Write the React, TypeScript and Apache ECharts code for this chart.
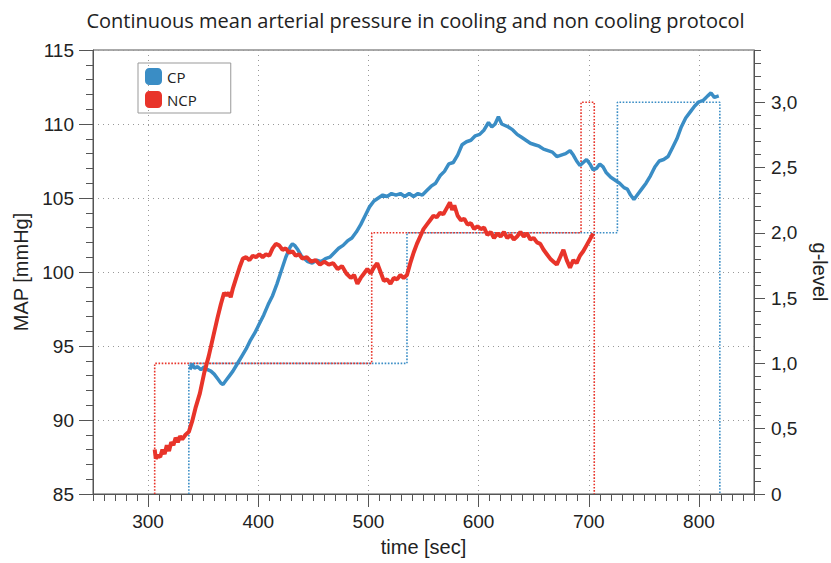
import React, { useEffect, useRef } from 'react';
import * as echarts from 'echarts';

const titleText = 'Continuous mean arterial pressure in cooling and non cooling protocol';
const legendNames = ['CP', 'NCP'];
const xMajorTicks = [300, 400, 500, 600, 700, 800];
const gTicks = [0, 0.5, 1, 1.5, 2, 2.5, 3];

const cpTime = [338, 340, 342, 345, 348, 351, 354, 357, 360, 363, 366, 368, 371, 374, 377, 381, 385, 389, 393, 397, 401, 405, 409, 413, 417, 421, 425, 429, 431, 433, 436, 439, 442, 445, 449, 453, 457, 461, 465, 469, 473, 477, 481, 485, 489, 493, 497, 501, 505, 509, 513, 517, 521, 525, 529, 533, 537, 541, 545, 549, 553, 557, 561, 565, 569, 573, 577, 581, 585, 589, 593, 597, 601, 605, 609, 612, 615, 618, 621, 624, 627, 631, 635, 639, 643, 647, 651, 655, 659, 663, 667, 671, 675, 679, 683, 686, 689, 692, 695, 698, 701, 704, 707, 710, 713, 716, 720, 724, 728, 732, 735, 738, 741, 744, 748, 752, 756, 760, 764, 768, 772, 776, 780, 784, 788, 792, 796, 800, 804, 808, 811, 814, 818];
const cpMap = [93.4, 93.8, 93.5, 93.6, 93.4, 93.6, 93.4, 93.3, 93.1, 92.8, 92.5, 92.4, 92.7, 93.0, 93.3, 93.8, 94.3, 94.8, 95.4, 95.9, 96.5, 97.1, 97.8, 98.4, 99.2, 100.1, 101.0, 101.7, 101.9, 101.8, 101.5, 101.1, 100.9, 100.7, 100.6, 100.8, 100.7, 100.9, 101.0, 101.3, 101.6, 101.8, 102.1, 102.3, 102.7, 103.2, 103.8, 104.4, 104.8, 105.0, 105.2, 105.1, 105.3, 105.2, 105.3, 105.1, 105.3, 105.1, 105.3, 105.2, 105.5, 105.8, 106.0, 106.5, 106.8, 107.3, 107.4, 107.9, 108.6, 108.8, 108.9, 109.2, 109.3, 109.6, 110.1, 109.8, 110.0, 110.5, 110.0, 109.9, 109.8, 109.6, 109.3, 109.1, 108.9, 108.7, 108.6, 108.5, 108.3, 108.2, 108.1, 107.8, 107.9, 108.0, 108.2, 107.9, 107.5, 107.2, 107.4, 107.6, 107.3, 106.9, 107.0, 107.3, 107.1, 106.7, 106.4, 106.2, 106.0, 105.7, 105.6, 105.2, 104.9, 105.2, 105.6, 106.0, 106.5, 107.1, 107.5, 107.6, 107.8, 108.4, 109.0, 109.8, 110.4, 110.8, 111.2, 111.5, 111.6, 111.9, 112.1, 111.8, 111.9];

const ncpTime = [306, 307, 309, 311, 313, 315, 317, 319, 321, 323, 325, 327, 329, 331, 334, 337, 340, 343, 347, 351, 355, 359, 363, 366, 369, 371, 373, 375, 377, 380, 383, 386, 389, 392, 395, 398, 401, 404, 407, 410, 413, 416, 419, 422, 425, 428, 431, 434, 437, 440, 444, 448, 452, 456, 460, 464, 468, 472, 476, 480, 484, 487, 490, 493, 496, 499, 502, 505, 508, 511, 514, 517, 520, 523, 526, 529, 532, 535, 538, 541, 544, 547, 550, 553, 556, 559, 562, 565, 568, 571, 574, 576, 578, 581, 584, 587, 590, 593, 596, 599, 602, 605, 608, 611, 614, 617, 620, 623, 626, 629, 632, 635, 638, 641, 644, 647, 650, 653, 656, 659, 662, 665, 668, 671, 674, 677, 680, 683, 686, 689, 692, 695, 698, 701, 704];
const ncpMap = [88.0, 87.4, 87.6, 87.5, 88.0, 87.7, 88.3, 87.9, 88.5, 88.3, 88.8, 88.5, 88.9, 88.7, 89.0, 89.2, 89.9, 90.8, 91.8, 93.2, 94.3, 95.6, 96.9, 97.8, 98.6, 98.4, 98.6, 98.3, 98.9, 99.6, 100.3, 100.9, 101.0, 100.8, 101.1, 101.0, 101.2, 101.0, 101.2, 101.1, 101.6, 101.9, 101.8, 101.5, 101.6, 101.3, 101.4, 101.1, 101.2, 100.9, 101.0, 100.7, 100.8, 100.5, 100.7, 100.5, 100.6, 100.2, 100.4, 99.9, 99.6, 99.8, 99.2, 99.6, 99.9, 100.2, 99.9, 100.3, 100.6, 100.0, 99.4, 99.5, 99.2, 99.6, 99.5, 99.8, 99.6, 99.8, 100.6, 101.3, 101.9, 102.4, 102.9, 103.2, 103.5, 103.8, 103.7, 104.0, 103.9, 104.3, 104.7, 104.2, 104.5, 103.8, 103.5, 103.6, 103.2, 103.3, 102.9, 103.1, 102.9, 103.0, 102.5, 102.7, 102.3, 102.6, 102.4, 102.7, 102.3, 102.5, 102.2, 102.4, 102.7, 102.4, 102.6, 102.2, 102.3, 102.0, 101.9, 101.5, 101.2, 100.9, 100.7, 100.5, 101.0, 101.5, 100.8, 100.3, 100.8, 100.6, 101.1, 101.4, 101.8, 102.2, 102.6];

const cpGTime = [337, 337, 535, 535, 726, 726, 819, 819];
const cpGLevel = [0, 1, 1, 2, 2, 3, 3, 0];
const ncpGTime = [306, 306, 503, 503, 693, 693, 705, 705];
const ncpGLevel = [0, 1, 1, 2, 2, 3, 3, 0];

const BLUE = '#3a8dc5';
const RED = '#e8342a';
const AXIS = '#555';
const FONT = 'Liberation Sans';

export default function App() {
  const ref = useRef<HTMLDivElement>(null);
  useEffect(() => {
    const chart = echarts.init(ref.current!, null, { renderer: 'svg' });
    const pair = (xs: number[], ys: number[]) => xs.map((x, i) => [x, ys[i]]);
    const option: any = {
      animation: false,
      backgroundColor: '#fff',
      title: {
        text: titleText,
        left: 'center',
        top: 5,
        textStyle: { fontFamily: 'Open Sans', fontSize: 20, fontWeight: 'normal', color: '#222' },
      },
      legend: {
        data: legendNames,
        orient: 'vertical',
        left: 138,
        top: 63,
        icon: 'roundRect',
        itemWidth: 17,
        itemHeight: 17,
        itemGap: 6,
        padding: [5, 34, 5, 7],
        borderColor: '#999',
        borderWidth: 1,
        textStyle: { fontFamily: 'Open Sans', fontSize: 15, color: '#222' },
      },
      grid: {
        left: 93, right: 77, top: 50, bottom: 69, containLabel: false, outerBoundsMode: 'none',
        show: true, borderColor: AXIS, borderWidth: 1, backgroundColor: 'transparent',
      },
      xAxis: [
        {
          type: 'value', min: 250, max: 850, position: 'bottom',
          name: 'time [sec]', nameLocation: 'middle', nameGap: 43,
          nameTextStyle: { fontFamily: FONT, fontSize: 20, color: '#222' },
          axisLine: { onZero: false, lineStyle: { color: AXIS, width: 1 } },
          axisTick: { show: true, length: 13, customValues: xMajorTicks, lineStyle: { color: AXIS } },
          axisLabel: { customValues: xMajorTicks, fontFamily: FONT, fontSize: 19, color: '#222', margin: 18 },
          splitLine: { show: true, lineStyle: { color: '#999', type: [1, 4], width: 1 } },
        },
        {
          type: 'value', min: 250, max: 850, interval: 10, position: 'bottom',
          axisLine: { show: false, onZero: false },
          axisTick: { show: true, length: 7, lineStyle: { color: AXIS } },
          axisLabel: { show: false },
          splitLine: { show: false },
        },
      ],
      yAxis: [
        {
          type: 'value', min: 85, max: 115, interval: 5, position: 'left',
          name: 'MAP [mmHg]', nameLocation: 'middle', nameGap: 57,
          nameTextStyle: { fontFamily: FONT, fontSize: 20, color: '#222' },
          axisLine: { show: true, onZero: false, lineStyle: { color: AXIS } },
          axisTick: { show: true, length: 14, lineStyle: { color: AXIS } },
          minorTick: { show: true, splitNumber: 5, length: 7, lineStyle: { color: AXIS } },
          axisLabel: { fontFamily: FONT, fontSize: 19, color: '#222', margin: 19 },
          splitLine: { show: true, lineStyle: { color: '#999', type: [1, 4], width: 1 } },
        },
        {
          type: 'value', min: 0, max: 3.4, position: 'right',
          name: 'g-level', nameLocation: 'middle', nameGap: 56, nameRotate: -90,
          nameTextStyle: { fontFamily: FONT, fontSize: 20, color: '#222' },
          axisLine: { show: true, onZero: false, lineStyle: { color: AXIS } },
          axisTick: { show: true, length: 11, customValues: gTicks, lineStyle: { color: AXIS } },
          axisLabel: {
            customValues: gTicks, fontFamily: FONT, fontSize: 19, color: '#222', margin: 17,
            formatter: (v: number) => (v === 0 ? '0' : v.toFixed(1).replace('.', ',')),
          },
          splitLine: { show: false },
        },
        {
          type: 'value', min: 0, max: 3.4, interval: 0.1, position: 'right',
          axisLine: { show: false, onZero: false },
          axisTick: { show: true, length: 7, lineStyle: { color: AXIS } },
          axisLabel: { show: false },
          splitLine: { show: false },
        },
      ],
      series: [
        {
          name: 'CP g-level', type: 'line', xAxisIndex: 0, yAxisIndex: 1, data: pair(cpGTime, cpGLevel),
          showSymbol: false, symbol: 'none', lineStyle: { color: BLUE, width: 1.6, type: [1.6, 1.6] }, z: 1,
        },
        {
          name: 'NCP g-level', type: 'line', xAxisIndex: 0, yAxisIndex: 1, data: pair(ncpGTime, ncpGLevel),
          showSymbol: false, symbol: 'none', lineStyle: { color: RED, width: 1.6, type: [1.6, 1.6] }, z: 1,
        },
        {
          name: 'CP', type: 'line', xAxisIndex: 0, yAxisIndex: 0, data: pair(cpTime, cpMap),
          showSymbol: false, symbol: 'none', itemStyle: { color: BLUE }, lineStyle: { color: BLUE, width: 3.5 }, z: 3,
        },
        {
          name: 'NCP', type: 'line', xAxisIndex: 0, yAxisIndex: 0, data: pair(ncpTime, ncpMap),
          showSymbol: false, symbol: 'none', itemStyle: { color: RED }, lineStyle: { color: RED, width: 4 }, z: 4,
        },
      ],
    };
    chart.setOption(option);
    return () => chart.dispose();
  }, []);
  return <div ref={ref} style={{ position: 'absolute', left: 0, top: 0, width: 831, height: 563 }} />;
}
